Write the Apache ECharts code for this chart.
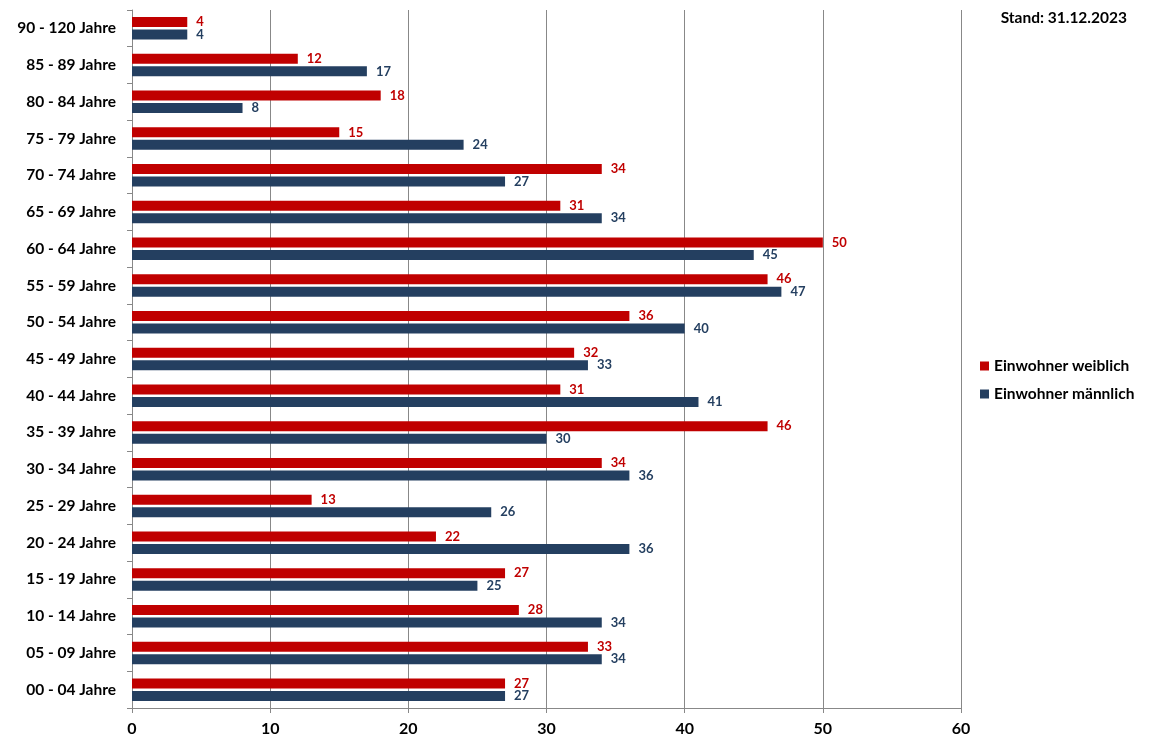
<!DOCTYPE html>
<html>
<head>
<meta charset="utf-8">
<script src="https://cdn.jsdelivr.net/npm/echarts@6/dist/echarts.min.js"></script>
<style>
  html, body { margin: 0; padding: 0; background: #fff; }
  #chart { width: 1154px; height: 746px; }
</style>
</head>
<body>
<div id="chart"></div>
<script>
// Altersgruppen, von unten nach oben
const categories = [
  '00 - 04 Jahre', '05 - 09 Jahre', '10 - 14 Jahre', '15 - 19 Jahre', '20 - 24 Jahre',
  '25 - 29 Jahre', '30 - 34 Jahre', '35 - 39 Jahre', '40 - 44 Jahre', '45 - 49 Jahre',
  '50 - 54 Jahre', '55 - 59 Jahre', '60 - 64 Jahre', '65 - 69 Jahre', '70 - 74 Jahre',
  '75 - 79 Jahre', '80 - 84 Jahre', '85 - 89 Jahre', '90 - 120 Jahre'
]
const weiblich = [27, 33, 28, 27, 22, 13, 34, 46, 31, 32, 36, 46, 50, 31, 34, 15, 18, 12, 4]
const maennlich = [27, 34, 34, 25, 36, 26, 36, 30, 41, 33, 40, 47, 45, 34, 27, 24, 8, 17, 4]

const RED = '#C00000'
const BLUE = '#243F60'
const FONT = 'Lato'

const chart = echarts.init(document.getElementById('chart'))

chart.setOption({
  backgroundColor: '#fff',
  animation: false,
  textStyle: { fontFamily: FONT },
  title: {
    text: 'Stand: 31.12.2023',
    right: 22,
    top: 5,
    textStyle: { fontSize: 15.5, fontWeight: 'bold', color: '#000', fontFamily: FONT }
  },
  legend: {
    orient: 'vertical',
    left: 975,
    top: 353,
    itemWidth: 9,
    itemHeight: 9,
    itemGap: 12,
    icon: 'rect',
    data: ['Einwohner weiblich', 'Einwohner männlich'],
    textStyle: { fontSize: 15.5, fontWeight: 'bold', color: '#000', fontFamily: FONT }
  },
  grid: { left: 132, right: 193, top: 10, bottom: 38 },
  xAxis: {
    type: 'value',
    min: 0,
    max: 60,
    interval: 10,
    axisLine: { show: true, lineStyle: { color: '#888' } },
    axisTick: { show: true, length: 5, lineStyle: { color: '#888' } },
    axisLabel: { fontSize: 16, fontWeight: 'bold', color: '#000', margin: 13 },
    splitLine: { show: true, lineStyle: { color: '#888' } }
  },
  yAxis: {
    type: 'category',
    data: categories,
    axisLine: { show: true, lineStyle: { color: '#888' } },
    axisTick: { show: true, length: 5, lineStyle: { color: '#888' } },
    axisLabel: { fontSize: 15.5, fontWeight: 'bold', color: '#000', margin: 16 }
  },
  series: [
    {
      name: 'Einwohner weiblich',
      type: 'bar',
      data: weiblich,
      barWidth: 10,
      barGap: '25%',
      itemStyle: { color: RED },
      label: { show: true, position: 'right', distance: 9, fontSize: 13, fontWeight: 'bold', color: RED }
    },
    {
      name: 'Einwohner männlich',
      type: 'bar',
      data: maennlich,
      barWidth: 10,
      barGap: '25%',
      itemStyle: { color: BLUE },
      label: { show: true, position: 'right', distance: 9, fontSize: 13, fontWeight: 'bold', color: BLUE }
    }
  ]
})
</script>
</body>
</html>
